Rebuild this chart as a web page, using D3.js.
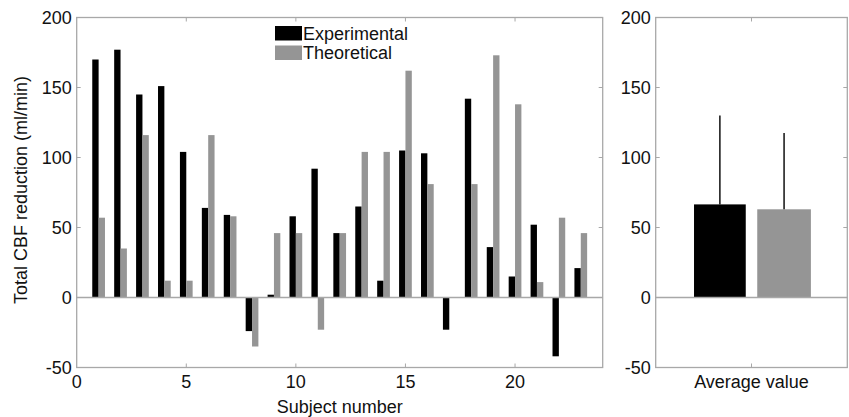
<!DOCTYPE html>
<html>
<head>
<meta charset="utf-8">
<script src="https://cdn.jsdelivr.net/npm/d3@7"></script>
<style>
  body { margin: 0; background: #fff; }
  text { font-family: "Liberation Sans", Arial, sans-serif; font-size: 18px; fill: #111; }
</style>
</head>
<body>
<div id="chart"></div>
<script>
// Data
const subjects = [1,2,3,4,5,6,7,8,9,10,11,12,13,14,15,16,17,18,19,20,21,22,23];
const experimental = [170,177,145,151,104,64,59,-24,2,58,92,46,65,12,105,103,-23,142,36,15,52,-42,21];
const theoretical = [57,35,116,12,12,116,58,-35,46,46,-23,46,104,104,162,81,0,81,173,138,11,57,46];
const seriesNames = ['Experimental', 'Theoretical'];
const averages = [66.5, 63];
const errorTops = [130, 117.5];
const yTicks = [-50, 0, 50, 100, 150, 200];
const xTicks = [0, 5, 10, 15, 20];
const avgLabel = 'Average value';

const width = 849, height = 417;
const colors = ['#000000', '#959595'];
const boxColor = '#a8a8a8';
const tickLen = 4;

const svg = d3.select('#chart').append('svg')
  .attr('width', width)
  .attr('height', height);

const y = d3.scaleLinear().domain([-50, 200]).range([367.5, 17.5]);

// left panel: per subject
const xL = d3.scaleLinear().domain([0, 24]).range([76.7, 602.7]);
// right panel: averages
const xR = d3.scaleLinear().domain([0.5, 1.5]).range([655.7, 847.3]);

function drawBox(x, xTickVals) {
  const [l, r] = x.range();
  const [b, t] = y.range();
  const g = svg.append('g');
  // zero baseline
  g.append('line')
    .attr('x1', l).attr('x2', r)
    .attr('y1', y(0)).attr('y2', y(0))
    .style('stroke', boxColor).style('stroke-width', 1.3);
  // inside ticks on all sides
  yTicks.forEach(v => {
    g.append('line').attr('x1', l).attr('x2', l + tickLen).attr('y1', y(v)).attr('y2', y(v))
      .style('stroke', boxColor);
    g.append('line').attr('x1', r).attr('x2', r - tickLen).attr('y1', y(v)).attr('y2', y(v))
      .style('stroke', boxColor);
  });
  xTickVals.forEach(v => {
    g.append('line').attr('x1', x(v)).attr('x2', x(v)).attr('y1', b).attr('y2', b - tickLen)
      .style('stroke', boxColor);
    g.append('line').attr('x1', x(v)).attr('x2', x(v)).attr('y1', t).attr('y2', t + tickLen)
      .style('stroke', boxColor);
  });
  g.append('rect')
    .attr('x', l).attr('y', t)
    .attr('width', r - l).attr('height', b - t)
    .style('fill', 'none')
    .style('stroke', boxColor)
    .style('stroke-width', 1.3);
  // y tick labels
  yTicks.forEach(v => {
    svg.append('text')
      .attr('x', l - 5)
      .attr('y', y(v))
      .attr('dy', '0.36em')
      .attr('text-anchor', 'end')
      .text(v);
  });
  return g;
}

// Left panel bars
const barW = 0.29;
const gL = svg.append('g');
gL.selectAll('.exp')
  .data(subjects)
  .enter().append('rect')
    .attr('class', 'exp')
    .attr('x', (d) => xL(d - barW))
    .attr('width', xL(barW) - xL(0))
    .attr('y', (d, i) => y(Math.max(0, experimental[i])))
    .attr('height', (d, i) => Math.abs(y(experimental[i]) - y(0)))
    .style('fill', colors[0]);
gL.selectAll('.theo')
  .data(subjects)
  .enter().append('rect')
    .attr('class', 'theo')
    .attr('x', (d) => xL(d))
    .attr('width', xL(barW) - xL(0))
    .attr('y', (d, i) => y(Math.max(0, theoretical[i])))
    .attr('height', (d, i) => Math.abs(y(theoretical[i]) - y(0)))
    .style('fill', colors[1]);

drawBox(xL, xTicks.filter(v => v > 0));

xTicks.forEach(v => {
  svg.append('text')
    .attr('x', xL(v))
    .attr('y', 388)
    .attr('text-anchor', 'middle')
    .text(v);
});

// Legend
seriesNames.forEach((name, i) => {
  svg.append('rect')
    .attr('x', 275).attr('y', 26 + i * 19.5)
    .attr('width', 27).attr('height', 14.5)
    .style('fill', colors[i]);
  svg.append('text')
    .attr('x', 303).attr('y', 39.5 + i * 19.5)
    .text(name);
});

// Right panel bars + error lines
const offsets = [[0.7, 0.97], [1.03, 1.31]];
const gR = svg.append('g');
averages.forEach((v, i) => {
  gR.append('rect')
    .attr('x', xR(offsets[i][0]))
    .attr('width', xR(offsets[i][1]) - xR(offsets[i][0]))
    .attr('y', y(v))
    .attr('height', y(0) - y(v))
    .style('fill', colors[i]);
  const cx = xR((offsets[i][0] + offsets[i][1]) / 2);
  gR.append('line')
    .attr('x1', cx).attr('x2', cx)
    .attr('y1', y(v)).attr('y2', y(errorTops[i]))
    .style('stroke', '#111').style('stroke-width', 1.5);
});

drawBox(xR, [1]);

svg.append('text')
  .attr('x', xR(1))
  .attr('y', 388)
  .attr('text-anchor', 'middle')
  .text(avgLabel);

// Axis titles
svg.append('text')
  .attr('x', xL(12))
  .attr('y', 413)
  .attr('text-anchor', 'middle')
  .text('Subject number');

svg.append('text')
  .attr('transform', 'translate(' + 27 + ',' + 190 + ') rotate(-90)')
  .attr('text-anchor', 'middle')
  .text('Total CBF reduction (ml/min)');
</script>
</body>
</html>
